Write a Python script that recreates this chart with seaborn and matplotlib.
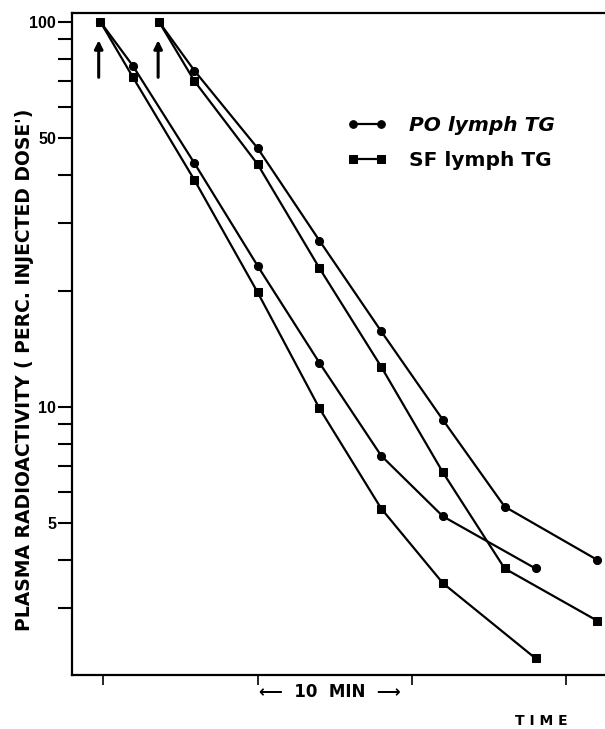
import numpy as np
import pandas as pd
import matplotlib
matplotlib.use("Agg")
import matplotlib.pyplot as plt
from matplotlib.ticker import FixedLocator, NullFormatter
import seaborn as sns

# ---- data ----
times_g1 = [-0.2, 1.9, 5.9, 10.0, 14.0, 18.0, 22.0, 28.0]
times_g2 = [3.6, 5.9, 10.0, 14.0, 18.0, 22.0, 26.0, 32.0]
po_g1 = [100, 76.9, 42.9, 23.2, 13.0, 7.46, 5.19, 3.80]
sf_g1 = [100, 71.9, 38.8, 19.8, 9.9, 5.44, 3.48, 2.22]
po_g2 = [100, 74.6, 46.9, 27.0, 15.7, 9.24, 5.50, 4.00]
sf_g2 = [100, 70.1, 42.6, 22.9, 12.7, 6.75, 3.80, 2.78]
series_labels = ["PO lymph TG", "SF lymph TG"]
y_major = [5, 10, 50, 100]
y_minor = [3, 4, 6, 7, 8, 9, 20, 30, 40, 60, 70, 80, 90]
x_ticks = [0, 10, 20, 30]
injection_times = [-0.3, 3.55]

rows = []
for t, v in zip(times_g1, po_g1):
    rows.append((t, v, series_labels[0], "g1"))
for t, v in zip(times_g1, sf_g1):
    rows.append((t, v, series_labels[1], "g1"))
for t, v in zip(times_g2, po_g2):
    rows.append((t, v, series_labels[0], "g2"))
for t, v in zip(times_g2, sf_g2):
    rows.append((t, v, series_labels[1], "g2"))
df = pd.DataFrame(rows, columns=["time", "value", "tracer", "group"])

sns.set_style("ticks")
plt.rcParams["font.family"] = ["DejaVu Sans"]
plt.rcParams["text.color"] = "black"
plt.rcParams["xtick.color"] = "black"
plt.rcParams["ytick.color"] = "black"
plt.rcParams["axes.labelcolor"] = "black"

fig = plt.figure(figsize=(6.05, 7.29), dpi=100)
ax = fig.add_axes([72 / 605, 1 - 675 / 729, 1 - 72 / 605, (675 - 13) / 729])

sns.lineplot(data=df, x="time", y="value", style="tracer", units="group",
             estimator=None, markers={series_labels[0]: "o", series_labels[1]: "s"},
             dashes=False, color="black", linewidth=1.6, markersize=5.8,
             markeredgecolor="black", ax=ax, sort=False)

ax.set_yscale("log")
ax.set_xlim(-2.03, 32.5)
ax.set_ylim(2.01, 105.3)

ax.yaxis.set_major_locator(FixedLocator(y_major))
ax.yaxis.set_minor_locator(FixedLocator(y_minor))
ax.yaxis.set_minor_formatter(NullFormatter())
ax.set_yticklabels([str(v) for v in y_major], fontweight="bold", fontsize=11.5,
                   color="black", family="Liberation Sans")
ax.xaxis.set_major_locator(FixedLocator(x_ticks))
ax.set_xticklabels([])

ax.tick_params(axis="y", which="both", direction="out", length=10, width=1.5,
               color="black", pad=1.5)
ax.tick_params(axis="x", which="major", direction="out", length=7, width=1.2,
               color="black")
ax.tick_params(axis="x", which="minor", length=0)

for s in ["left", "bottom", "top"]:
    ax.spines[s].set_visible(True)
    ax.spines[s].set_linewidth(1.6)
    ax.spines[s].set_color("black")
ax.spines["right"].set_visible(False)

ax.set_xlabel("")
ax.set_ylabel("")

# injection arrows
for t in injection_times:
    ax.annotate("", xy=(t, 91), xytext=(t, 70.5),
                arrowprops=dict(arrowstyle="-|>", color="black", lw=2.2,
                                mutation_scale=12))

# legend
handles, labels = ax.get_legend_handles_labels()
leg = ax.legend(handles, labels, loc="upper left", bbox_to_anchor=(0.5, 0.857),
                frameon=False, numpoints=2, handlelength=2.0, handletextpad=1.1,
                labelspacing=0.8, prop={"family": "DejaVu Sans",
                                        "weight": "bold", "size": 14.5},
                borderaxespad=0)
for h in leg.legend_handles:
    h.set_markersize(5.5)
leg.get_texts()[0].set_fontstyle("italic")

fig.text(25 / 605, 1 - 370 / 729, "PLASMA RADIOACTIVITY ( PERC. INJECTED DOSE')",
         rotation=90, ha="center", va="center", fontsize=13.5, fontweight="bold")
fig.text(330 / 605, 1 - 692 / 729, "\u27f5  10  MIN  \u27f6", ha="center",
         va="center", fontsize=12, fontweight="bold")
fig.text(541 / 605, 1 - 721 / 729, "T I M E", ha="center", va="center",
         fontsize=10, fontweight="bold")

fig.savefig("out.png", dpi=100)
